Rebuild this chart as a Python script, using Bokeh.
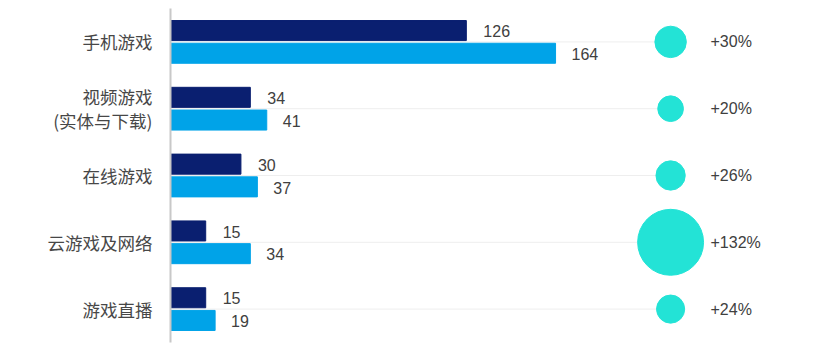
from bokeh.plotting import figure
from bokeh.models import FactorRange, Range1d, ColumnDataSource
from bokeh.transform import dodge
from bokeh.core.properties import value
from bokeh.embed import file_html
from bokeh.resources import INLINE
import math

categories = ["手机游戏", "视频游戏\n(实体与下载)", "在线游戏", "云游戏及网络", "游戏直播"]
values_prev = [126, 34, 30, 15, 15]
values_next = [164, 41, 37, 34, 19]
growth = [30, 20, 26, 132, 24]
growth_labels = ["+30%", "+20%", "+26%", "+132%", "+24%"]

DARK = "#0a1f70"
LIGHT = "#00a3e8"
TEAL = "#23e3d6"
TXT = "#404040"
CJK = "Noto Sans CJK SC"
NUM = "Liberation Sans"

src = ColumnDataSource(dict(
    cat=categories,
    prev=values_prev,
    nxt=values_next,
    prev_lbl=[str(v) for v in values_prev],
    nxt_lbl=[str(v) for v in values_next],
    size=[5.74 * math.sqrt(g) for g in growth],
    glbl=growth_labels,
    zero=[0] * len(categories),
))

p = figure(
    width=826, height=348,
    y_range=FactorRange(factors=list(reversed(categories)), range_padding=0),
    x_range=Range1d(0, 279.4),
    output_backend="svg", toolbar_location=None,
    min_border_left=170, min_border_right=0, min_border_top=8, min_border_bottom=6,
)
p.outline_line_color = None
p.xaxis.visible = False
p.xgrid.visible = False
p.ygrid.visible = False

yax = p.yaxis[0]
yax.axis_line_color = "#c8c8c8"
yax.axis_line_width = 2
yax.major_tick_line_color = None
yax.minor_tick_line_color = None
yax.major_label_text_font = CJK
yax.major_label_text_font_size = "17.5px"
yax.major_label_text_color = "#474747"
yax.major_label_text_line_height = 0.95
yax.major_label_standoff = 12

CIRCLE_X = 213
LABEL_X = 230

p.segment(x0="zero", y0="cat", x1=CIRCLE_X, y1="cat", source=src,
          line_color="#eeeeee", line_width=1)

p.hbar(y=dodge("cat", 0.17, range=p.y_range), left=0, right="prev", height=0.3,
       source=src, color=DARK)
p.hbar(y=dodge("cat", -0.17, range=p.y_range), left=0, right="nxt", height=0.3,
       source=src, color=LIGHT)

p.text(x="prev", y=dodge("cat", 0.16, range=p.y_range), text="prev_lbl", source=src,
       x_offset=17, text_baseline="middle", text_font=value(NUM),
       text_font_size="16px", text_color=TXT)
p.text(x="nxt", y=dodge("cat", -0.18, range=p.y_range), text="nxt_lbl", source=src,
       x_offset=16, text_baseline="middle", text_font=value(NUM),
       text_font_size="16px", text_color=TXT)

p.scatter(x=CIRCLE_X, y="cat", size="size", source=src, fill_color=TEAL,
          line_color=TEAL)
p.text(x=LABEL_X, y="cat", text="glbl", source=src, text_baseline="middle",
       text_font=value(NUM), text_font_size="16px", text_color=TXT)

open("out.html", "w").write(file_html(p, INLINE))
